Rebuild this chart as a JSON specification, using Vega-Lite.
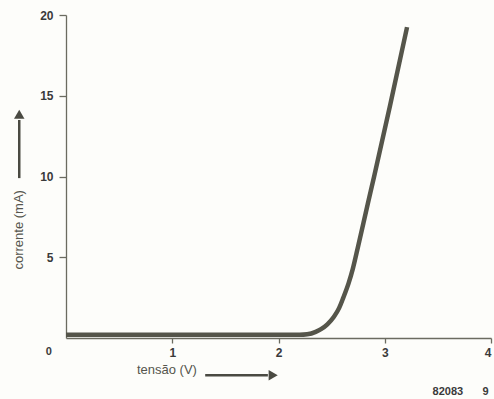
{
  "$schema": "https://vega.github.io/schema/vega-lite/v6.json",
  "autosize": {"type": "none"},
  "width": 425,
  "height": 323,
  "padding": {"left": 66, "top": 15, "right": 3, "bottom": 61},
  "background": "#fdfdfa",
  "config": {
    "view": {"stroke": null},
    "font": "Liberation Sans"
  },
  "datasets": {
    "curve": [
      {"v": 0, "i": 0.2},
      {"v": 2.2, "i": 0.2},
      {"v": 2.27, "i": 0.23},
      {"v": 2.35, "i": 0.38},
      {"v": 2.4, "i": 0.55},
      {"v": 2.46, "i": 0.85},
      {"v": 2.52, "i": 1.3},
      {"v": 2.57, "i": 1.85},
      {"v": 2.61, "i": 2.5},
      {"v": 2.66, "i": 3.4},
      {"v": 2.7, "i": 4.3},
      {"v": 2.75, "i": 5.7},
      {"v": 2.84, "i": 8.3},
      {"v": 2.9, "i": 10.0},
      {"v": 3.05, "i": 14.4},
      {"v": 3.21, "i": 19.25}
    ],
    "arrows": [
      {"name": "y", "x1": -0.44, "y1": 9.9, "x2": -0.44, "y2": 13.5},
      {"name": "x", "x1": 1.31, "y1": -2.3, "x2": 1.9, "y2": -2.3}
    ],
    "heads": [
      {"x": -0.44, "y": 13.85, "dir": "up"},
      {"x": 1.95, "y": -2.3, "dir": "right"}
    ],
    "labels": [
      {"x": -0.44, "y": 6.7, "text": "corrente (mA)", "kind": "ytitle"},
      {"x": 0.95, "y": -2.0, "text": "tensão (V)", "kind": "xtitle"},
      {"x": -0.19, "y": -0.85, "text": "0", "kind": "origin"},
      {"x": 3.45, "y": -3.35, "text": "82083", "kind": "code"},
      {"x": 3.92, "y": -3.35, "text": "9", "kind": "code"}
    ]
  },
  "layer": [
    {
      "data": {"name": "curve"},
      "mark": {"type": "line", "color": "#55554a", "strokeWidth": 4.5, "interpolate": "monotone", "clip": false, "strokeCap": "butt"},
      "encoding": {
        "x": {
          "field": "v", "type": "quantitative",
          "scale": {"domain": [0, 4], "nice": false},
          "axis": {
            "values": [1, 2, 3, 4], "format": "d", "title": null, "grid": false,
            "domainColor": "#6b6b60", "domainWidth": 1.3,
            "tickColor": "#6b6b60", "tickSize": 5, "tickWidth": 1.3,
            "labelFontWeight": "bold", "labelFontSize": 12, "labelColor": "#3a3a3a",
            "labelPadding": 4
          }
        },
        "y": {
          "field": "i", "type": "quantitative",
          "scale": {"domain": [0, 20], "nice": false},
          "axis": {
            "values": [5, 10, 15, 20], "format": "d", "title": null, "grid": false,
            "domainColor": "#6b6b60", "domainWidth": 1.3,
            "tickColor": "#6b6b60", "tickSize": 7, "tickWidth": 1.3,
            "labelFontWeight": "bold", "labelFontSize": 12, "labelColor": "#3a3a3a",
            "labelPadding": 6
          }
        }
      }
    },
    {
      "data": {"name": "arrows"},
      "mark": {"type": "rule", "color": "#4a4a42", "strokeWidth": 2.5, "clip": false},
      "encoding": {
        "x": {"field": "x1", "type": "quantitative"},
        "y": {"field": "y1", "type": "quantitative"},
        "x2": {"field": "x2"},
        "y2": {"field": "y2"}
      }
    },
    {
      "data": {"name": "heads"},
      "mark": {"type": "point", "filled": true, "color": "#4a4a42", "size": 110, "opacity": 1, "clip": false},
      "encoding": {
        "x": {"field": "x", "type": "quantitative"},
        "y": {"field": "y", "type": "quantitative"},
        "shape": {
          "field": "dir", "type": "nominal",
          "scale": {"domain": ["up", "right"], "range": ["triangle-up", "triangle-right"]},
          "legend": null
        }
      }
    },
    {
      "data": {"name": "labels"},
      "transform": [{"filter": "datum.kind === 'ytitle'"}],
      "mark": {"type": "text", "angle": 270, "fontSize": 13, "color": "#55554d", "align": "center", "baseline": "middle", "clip": false},
      "encoding": {
        "x": {"field": "x", "type": "quantitative"},
        "y": {"field": "y", "type": "quantitative"},
        "text": {"field": "text"}
      }
    },
    {
      "data": {"name": "labels"},
      "transform": [{"filter": "datum.kind === 'xtitle'"}],
      "mark": {"type": "text", "fontSize": 13, "color": "#55554d", "align": "center", "baseline": "middle", "clip": false},
      "encoding": {
        "x": {"field": "x", "type": "quantitative"},
        "y": {"field": "y", "type": "quantitative"},
        "text": {"field": "text"}
      }
    },
    {
      "data": {"name": "labels"},
      "transform": [{"filter": "datum.kind === 'origin' || datum.kind === 'code'"}],
      "mark": {"type": "text", "fontSize": 11, "fontWeight": "bold", "color": "#3a3a3a", "align": "left", "baseline": "middle", "clip": false},
      "encoding": {
        "x": {"field": "x", "type": "quantitative"},
        "y": {"field": "y", "type": "quantitative"},
        "text": {"field": "text"}
      }
    }
  ]
}
